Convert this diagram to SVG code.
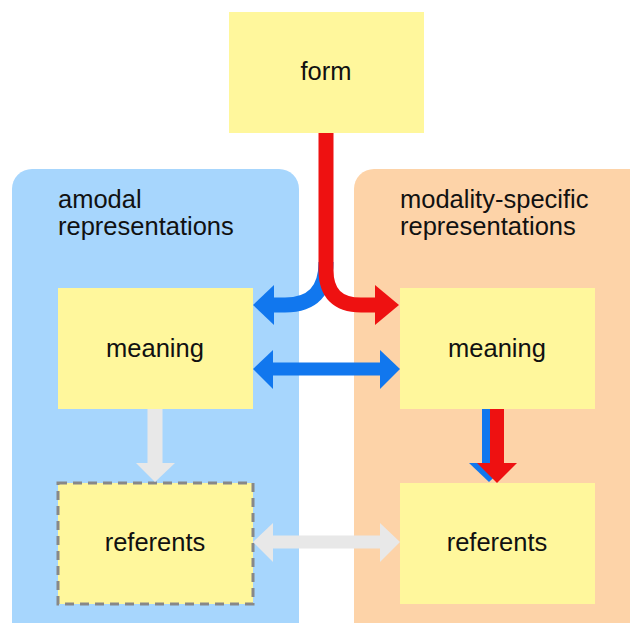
<svg xmlns="http://www.w3.org/2000/svg" width="630" height="623" viewBox="0 0 630 623">
<style>
.box{fill:#FFF79C}
.lbl{font-family:"Liberation Sans",Arial,Helvetica,sans-serif;font-size:25.5px;fill:#111}
.mid{text-anchor:middle}
</style>
<rect width="630" height="623" fill="#fff"/>
<g id="amodal">
<rect x="12" y="169" width="287" height="480" rx="20" fill="#A7D6FD"/>
<text class="lbl" x="58" y="208">amodal</text>
<text class="lbl" x="58" y="235">representations</text>
</g>
<g id="modality">
<rect x="354" y="169" width="300" height="480" rx="20" fill="#FDD3A8"/>
<text class="lbl" x="400" y="208">modality-specific</text>
<text class="lbl" x="400" y="235">representations</text>
</g>
<g id="form">
<rect class="box" x="229" y="12" width="195" height="121"/>
<text class="lbl mid" x="326" y="80">form</text>
</g>
<g id="meaning-amodal">
<rect class="box" x="58" y="288" width="195" height="121"/>
<text class="lbl mid" x="155" y="357">meaning</text>
</g>
<g id="meaning-modal">
<rect class="box" x="400" y="288" width="195" height="121"/>
<text class="lbl mid" x="497" y="357">meaning</text>
</g>
<g id="referents-amodal">
<rect class="box" x="58" y="483" width="195" height="121" stroke="#888" stroke-width="3" stroke-dasharray="9,6"/>
<text class="lbl mid" x="155" y="551">referents</text>
</g>
<g id="referents-modal">
<rect class="box" x="400" y="483" width="195" height="121"/>
<text class="lbl mid" x="497" y="551">referents</text>
</g>
<g id="connectors">
<path d="M326,262 Q326,305 285,305 H272" fill="none" stroke="#1177EE" stroke-width="15"/>
<polygon points="274,285 253,305 274,325" fill="#1177EE"/>
<path d="M326,133 V270 Q326,305 361,305 H378" fill="none" stroke="#EE1111" stroke-width="15"/>
<polygon points="375,285 399,305 375,325" fill="#EE1111"/>
<line x1="270" y1="369" x2="383" y2="369" stroke="#1177EE" stroke-width="13"/>
<polygon points="273,350 253,369 273,389" fill="#1177EE"/>
<polygon points="380,350 400,369 380,389" fill="#1177EE"/>
<line x1="155" y1="409" x2="155" y2="465" stroke="#E8E8E8" stroke-width="15"/>
<polygon points="136,463 155,482 175,463" fill="#E8E8E8"/>
<line x1="270" y1="542" x2="383" y2="542" stroke="#E8E8E8" stroke-width="13"/>
<polygon points="273,523 253,542 273,562" fill="#E8E8E8"/>
<polygon points="380,523 400,542 380,562" fill="#E8E8E8"/>
<line x1="489" y1="409" x2="489" y2="465" stroke="#1177EE" stroke-width="14"/>
<polygon points="469,463 489,482 509,463" fill="#1177EE"/>
<line x1="497" y1="409" x2="497" y2="465" stroke="#EE1111" stroke-width="14"/>
<polygon points="477,463 497,483 517,463" fill="#EE1111"/>
</g>
</svg>
